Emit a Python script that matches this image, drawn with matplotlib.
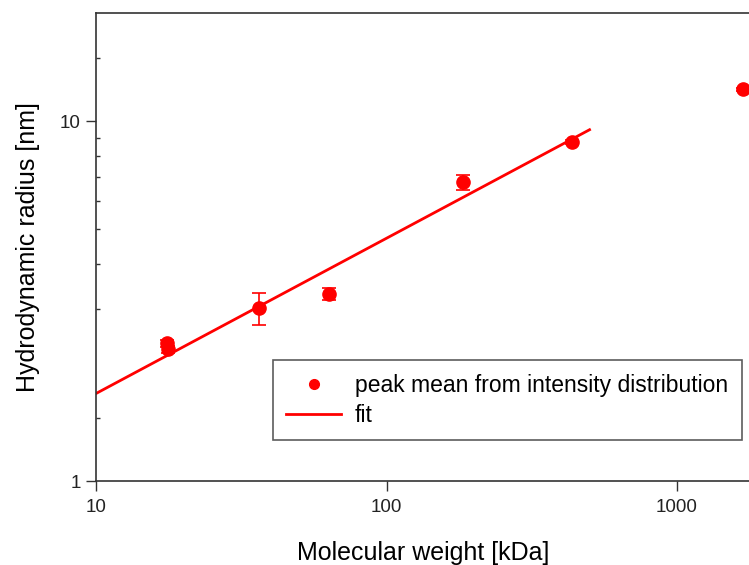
import numpy as np
import matplotlib
matplotlib.use("Agg")
import matplotlib.pyplot as plt
from matplotlib.lines import Line2D
from matplotlib.ticker import FixedLocator, NullLocator, NullFormatter

plt.rcParams['font.family'] = ['Liberation Sans', 'DejaVu Sans']

# measured points (molecular weight in kDa, hydrodynamic radius in nm)
mw = [17.6, 17.7, 36.4, 63.5, 184.0, 436.0, 1690.0]
radius = [2.41, 2.32, 3.02, 3.31, 6.75, 8.75, 12.25]
radius_err = [0.05, 0.05, 0.31, 0.12, 0.32, 0.12, 0.1]

# fit line end points
fit_mw = [10, 500]
fit_r = [1.75, 9.46]

red = '#ff0000'

fig = plt.figure(figsize=(7.49, 5.65), dpi=100)
decade = 290.5 / 749
ax = fig.add_axes([96 / 749, 84 / 565, decade * np.log10(180), 468.3 / 565])

ax.plot(fit_mw, fit_r, color=red, lw=2, zorder=2)
ax.errorbar(mw, radius, yerr=radius_err, fmt='o', color=red, ms=9.5,
            elinewidth=1.2, capsize=5, capthick=1.2, clip_on=False, zorder=3)

ax.set_xscale('log')
ax.set_yscale('log')
ax.set_xlim(10, 1800)
ax.set_ylim(1, 20)

ax.xaxis.set_major_locator(FixedLocator([10, 100, 1000]))
ax.xaxis.set_minor_locator(NullLocator())
ax.set_xticklabels(['10', '100', '1000'])
ax.yaxis.set_major_locator(FixedLocator([1, 10]))
ax.set_yticklabels(['1', '10'])
ax.yaxis.set_minor_locator(FixedLocator([1.5, 3, 4, 5, 6, 7, 8, 9, 15]))
ax.yaxis.set_minor_formatter(NullFormatter())

ax.tick_params(axis='both', which='major', direction='out', length=7,
               width=1, labelsize=13.5, colors='#333333', labelcolor='#222222')
ax.tick_params(axis='y', which='minor', direction='in', length=3, width=1,
               colors='#333333')
ax.tick_params(axis='x', pad=6)
ax.tick_params(axis='y', pad=4)

for s in ['left', 'bottom', 'top']:
    ax.spines[s].set_color('#333333')
    ax.spines[s].set_linewidth(1.2)
ax.spines['right'].set_visible(False)

ax.set_xlabel('Molecular weight [kDa]', fontsize=18, labelpad=18)
ax.set_ylabel('Hydrodynamic radius [nm]', fontsize=18, labelpad=14)

handles = [
    Line2D([], [], ls='none', marker='o', ms=7, color=red),
    Line2D([], [], color=red, lw=2),
]
labels = ['peak mean from intensity distribution', 'fit']
leg = ax.legend(handles, labels, loc='upper left',
                bbox_to_anchor=((272 - 96) / 653.0, (481 - 360) / 468.3),
                fontsize=16.5, frameon=True, fancybox=False, borderpad=0.6,
                handlelength=2.4, handletextpad=0.6, labelspacing=0.3,
                borderaxespad=0)
leg.get_frame().set_edgecolor('#333333')
leg.get_frame().set_linewidth(1.2)

fig.savefig('out.png', dpi=100)
